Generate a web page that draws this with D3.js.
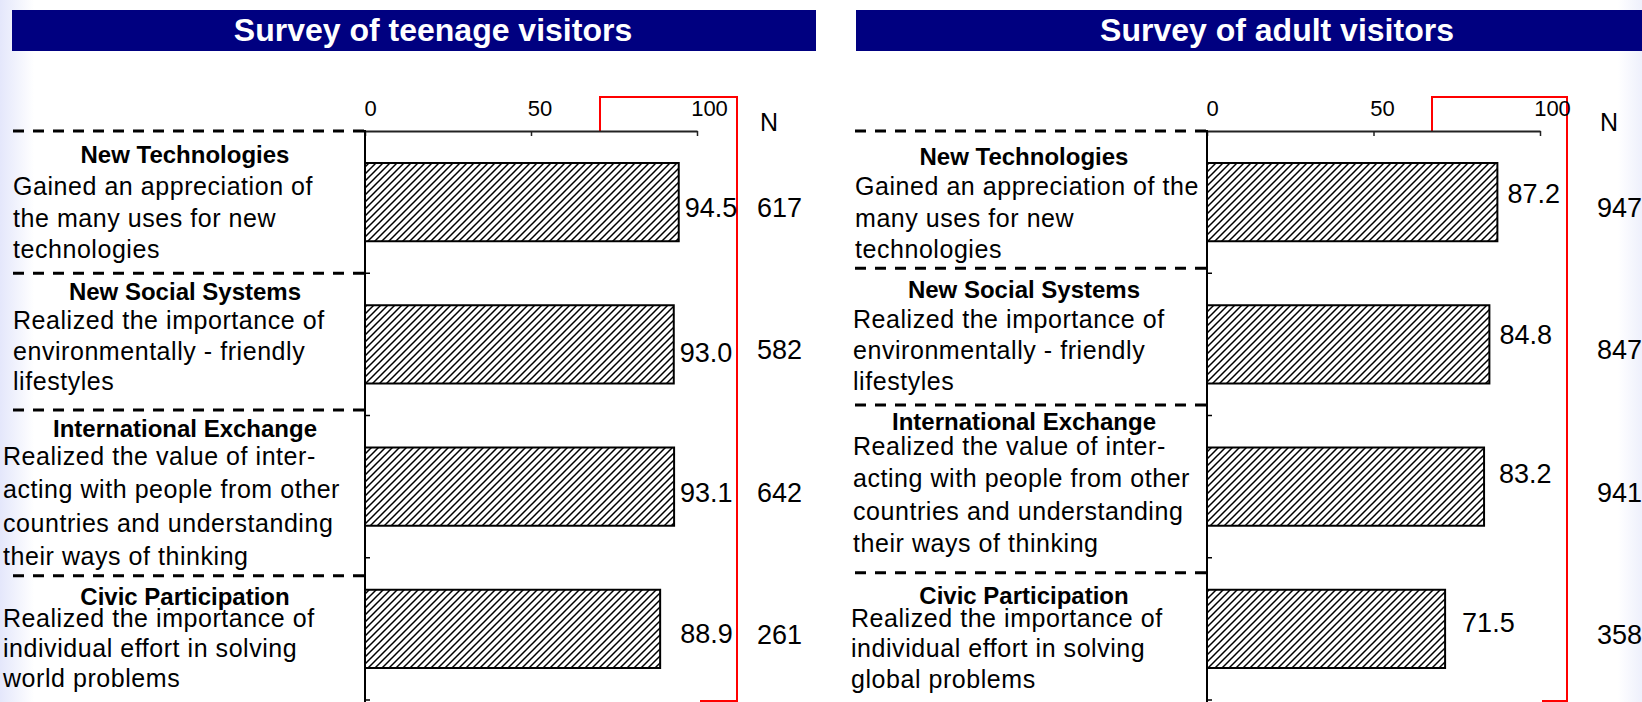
<!DOCTYPE html>
<html>
<head>
<meta charset="utf-8">
<script src="https://cdn.jsdelivr.net/npm/d3@7"></script>
<style>
  html, body { margin: 0; padding: 0; background: #fff; }
  svg { display: block; font-family: "Liberation Sans", Arial, sans-serif; }
</style>
</head>
<body>
<svg id="chart" width="1642" height="702"></svg>
<script>
// ---- data ----
const categories = ["New Technologies", "New Social Systems", "International Exchange", "Civic Participation"];

const teenDescriptions = [
  ["Gained an appreciation of", "the many uses for new", "technologies"],
  ["Realized the importance of", "environmentally - friendly", "lifestyles"],
  ["Realized the value of inter-", "acting with people from other", "countries and understanding", "their ways of thinking"],
  ["Realized the importance of", "individual effort in solving", "world problems"]
];
const adultDescriptions = [
  ["Gained an appreciation of the", "many uses for new", "technologies"],
  ["Realized the importance of", "environmentally - friendly", "lifestyles"],
  ["Realized the value of inter-", "acting with people from other", "countries and understanding", "their ways of thinking"],
  ["Realized the importance of", "individual effort in solving", "global problems"]
];

const teenValues = [94.5, 93.0, 93.1, 88.9];
const teenN = [617, 582, 642, 261];
const adultValues = [87.2, 84.8, 83.2, 71.5];
const adultN = [947, 847, 941, 358];

const axisTicks = [0, 50, 100];
const nHeader = "N";
const teenTitle = "Survey of teenage visitors";
const adultTitle = "Survey of adult visitors";

// ---- layout ----
const svg = d3.select("#chart");

// soft slide background at the edges
const defs = svg.append("defs");
const gl = defs.append("linearGradient").attr("id", "edgeL").attr("x1", 0).attr("x2", 1);
gl.append("stop").attr("offset", 0).attr("stop-color", "#e4e7fb");
gl.append("stop").attr("offset", 1).attr("stop-color", "#ffffff");
const gr = defs.append("linearGradient").attr("id", "edgeR").attr("x1", 1).attr("x2", 0);
gr.append("stop").attr("offset", 0).attr("stop-color", "#eef0fc");
gr.append("stop").attr("offset", 1).attr("stop-color", "#ffffff");
svg.append("rect").attr("width", 1642).attr("height", 702).attr("fill", "#fff");
svg.append("rect").attr("x", 0).attr("y", 0).attr("width", 34).attr("height", 702).attr("fill", "url(#edgeL)");
svg.append("rect").attr("x", 1618).attr("y", 0).attr("width", 24).attr("height", 702).attr("fill", "url(#edgeR)");

// diagonal hatch used for the bars
const pat = defs.append("pattern")
  .attr("id", "hatch").attr("patternUnits", "userSpaceOnUse")
  .attr("width", 7).attr("height", 7);
pat.append("rect").attr("width", 7).attr("height", 7).attr("fill", "#fff");
pat.append("path")
  .attr("d", "M-1,1 L1,-1 M0,7 L7,0 M6,8 L8,6")
  .attr("stroke", "#000").attr("stroke-width", 1.5);

const y = d3.scaleBand()
  .domain(categories)
  .range([131, 700])
  .paddingInner(0.45)
  .paddingOuter(0.225);

const panels = [
  {
    title: teenTitle, values: teenValues, ns: teenN, desc: teenDescriptions,
    x0: 365, x1: 697, band: [12, 816], titleX: 433, catTitleX: 185,
    descX: [13, 13, 3, 3], dashX0: 13, red: [600, 737, 700], nX: 757,
    titleDy: [32, 27, 21.5, 47], descDy: [64, 56, 49.5, 69], descStep: [31.5, 30.5, 33.3, 30],
    dashDy: [0, 0, -5.5, 18],
    valDx: [6, 6, 6, 20], valDy: [15, 18, 15, 14]
  },
  {
    title: adultTitle, values: adultValues, ns: adultN, desc: adultDescriptions,
    x0: 1207, x1: 1540, band: [856, 1700], titleX: 1277, catTitleX: 1024,
    descX: [855, 853, 853, 851], dashX0: 855, red: [1432, 1567, 1542], nX: 1597,
    titleDy: [34, 25, 14.5, 46], descDy: [64, 55, 39.5, 69], descStep: [31.5, 31, 32.3, 30.5],
    dashDy: [0, -5, -10.5, 15],
    valDx: [10, 10, 15, 17], valDy: [1, 0, -4, 3]
  }
];

const bandStart = d => y(d) - y.step() * y.paddingOuter();
const bandCenter = d => y(d) + y.bandwidth() / 2;

panels.forEach(p => {
  const g = svg.append("g");
  const x = d3.scaleLinear().domain([0, 100]).range([p.x0, p.x1]);

  // title banner
  g.append("rect")
    .attr("x", p.band[0]).attr("y", 10)
    .attr("width", p.band[1] - p.band[0]).attr("height", 41)
    .attr("fill", "#000080");
  g.append("text")
    .attr("x", p.titleX).attr("y", 41)
    .attr("text-anchor", "middle")
    .attr("fill", "#fff").attr("font-weight", "bold").attr("font-size", 32)
    .text(p.title);

  // red bracket around the N column
  g.append("path")
    .attr("d", `M${p.red[0]},131 V97 H${p.red[1]} V701 H${p.red[2]}`)
    .attr("fill", "none").attr("stroke", "#ff0000").attr("stroke-width", 2);

  // top value axis
  const ax = g.append("g")
    .attr("transform", "translate(0,131)")
    .call(d3.axisTop(x).tickValues(axisTicks).tickSizeInner(-5).tickSizeOuter(0).tickPadding(15));
  ax.select(".domain").attr("stroke", "#222").attr("stroke-width", 2);
  ax.selectAll(".tick line").attr("stroke", "#222").attr("stroke-width", 1.5);
  ax.selectAll(".tick text")
    .attr("font-family", "Liberation Sans, Arial, sans-serif")
    .attr("font-size", 22).attr("fill", "#000")
    .attr("dx", d => 5 + 0.07 * d);

  // N header
  g.append("text")
    .attr("x", p.nX + 3).attr("y", 131)
    .attr("font-size", 25).attr("fill", "#000")
    .text(nHeader);

  // dashed separators for the category labels
  g.selectAll(".sep").data(categories).join("line")
    .attr("x1", p.dashX0).attr("x2", p.x0)
    .attr("y1", (d, i) => bandStart(d) + p.dashDy[i])
    .attr("y2", (d, i) => bandStart(d) + p.dashDy[i])
    .attr("stroke", "#000").attr("stroke-width", 3)
    .attr("stroke-dasharray", "11,9");

  // category axis line with inner ticks at band boundaries
  g.append("line")
    .attr("x1", p.x0).attr("x2", p.x0).attr("y1", 130).attr("y2", 702)
    .attr("stroke", "#000").attr("stroke-width", 2);
  g.selectAll(".btick").data(categories).join("line")
    .attr("x1", p.x0).attr("x2", p.x0 + 5)
    .attr("y1", d => bandStart(d) + y.step())
    .attr("y2", d => bandStart(d) + y.step())
    .attr("stroke", "#000").attr("stroke-width", 1.5);

  // bars
  g.selectAll(".bar").data(p.values).join("rect")
    .attr("x", x(0))
    .attr("y", (d, i) => y(categories[i]))
    .attr("width", d => x(d) - x(0))
    .attr("height", y.bandwidth())
    .attr("fill", "url(#hatch)")
    .attr("stroke", "#000").attr("stroke-width", 2);

  // value labels
  g.selectAll(".val").data(p.values).join("text")
    .attr("x", (d, i) => x(d) + p.valDx[i])
    .attr("y", (d, i) => bandCenter(categories[i]) + p.valDy[i])
    .attr("font-size", 27).attr("fill", "#000")
    .text(d => d.toFixed(1));

  // sample sizes
  g.selectAll(".n").data(p.ns).join("text")
    .attr("x", p.nX)
    .attr("y", (d, i) => bandCenter(categories[i]) + 15)
    .attr("font-size", 27).attr("fill", "#000")
    .text(d => d);

  // category titles and descriptions
  categories.forEach((c, i) => {
    const top = bandStart(c);
    g.append("text")
      .attr("x", p.catTitleX).attr("y", top + p.titleDy[i])
      .attr("text-anchor", "middle")
      .attr("font-weight", "bold").attr("font-size", 24).attr("fill", "#000")
      .text(c);
    g.selectAll(null).data(p.desc[i]).join("text")
      .attr("x", p.descX[i])
      .attr("y", (d, j) => top + p.descDy[i] + j * p.descStep[i])
      .attr("font-size", 25).attr("letter-spacing", 0.55).attr("fill", "#000")
      .text(d => d);
  });
});
</script>
</body>
</html>
